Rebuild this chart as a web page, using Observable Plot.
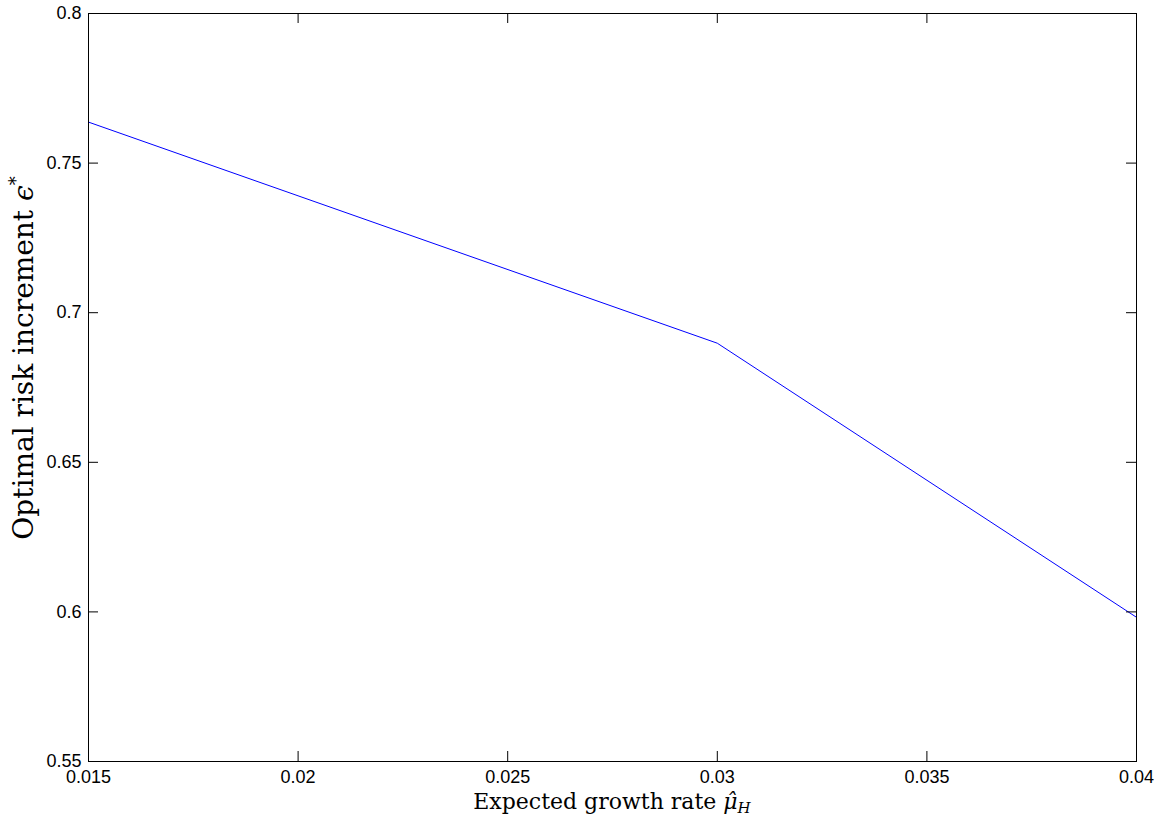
<!DOCTYPE html>
<html><head><meta charset="utf-8">
<script src="https://cdn.jsdelivr.net/npm/d3@7"></script>
<script src="https://cdn.jsdelivr.net/npm/@observablehq/plot@0.6"></script>
<style>body{margin:0;background:#fff}</style>
</head><body><div id="chart"></div>
<script>
const growthRate = [0.015, 0.03, 0.04];
const riskIncrement = [0.7637, 0.6898, 0.5982];
const xTicks = [0.015, 0.02, 0.025, 0.03, 0.035, 0.04];
const xTickLabels = ["0.015", "0.02", "0.025", "0.03", "0.035", "0.04"];
const yTicks = [0.55, 0.6, 0.65, 0.7, 0.75, 0.8];
const yTickLabels = ["0.55", "0.6", "0.65", "0.7", "0.75", "0.8"];

const W = 1159, H = 821, mL = 88, mR = 23, mT = 13, mB = 60;
const plotW = W - mL - mR, plotH = H - mT - mB;
const T = 10;
const data = growthRate.map((x, i) => ({x, y: riskIncrement[i]}));

const chart = Plot.plot({
  width: W, height: H,
  marginLeft: mL, marginRight: mR, marginTop: mT, marginBottom: mB,
  style: {fontFamily: "'Liberation Sans', Arial, sans-serif", fontSize: "18px", color: "#000", background: "#fff"},
  x: {domain: [0.015, 0.04]},
  y: {domain: [0.55, 0.8]},
  marks: [
    Plot.line(data, {x: "x", y: "y", stroke: "#0000ff", strokeWidth: 1}),
    Plot.tickX(xTicks, {x: d => d, insetTop: plotH - T, stroke: "#000"}),
    Plot.tickX(xTicks, {x: d => d, insetBottom: plotH - T, stroke: "#000"}),
    Plot.tickY(yTicks, {y: d => d, insetRight: plotW - T, stroke: "#000"}),
    Plot.tickY(yTicks, {y: d => d, insetLeft: plotW - T, stroke: "#000"}),
    Plot.axisX(xTicks, {anchor: "bottom", tickSize: 0, tickPadding: 9, tickFormat: d => xTickLabels[xTicks.indexOf(d)], label: null}),
    Plot.axisY(yTicks, {anchor: "left", tickSize: 0, tickPadding: 7, tickFormat: d => yTickLabels[yTicks.indexOf(d)], label: null}),
    Plot.frame({stroke: "#000", strokeWidth: 1})
  ]
});

const svg = d3.select(chart);
const serif = "'DejaVu Serif', 'Liberation Serif', serif";
svg.append("text")
  .attr("x", mL + plotW / 2).attr("y", 809)
  .attr("text-anchor", "middle").attr("font-family", serif).attr("font-size", 22).attr("fill", "#000")
  .call(t => {
    t.append("tspan").text("Expected growth rate ");
    t.append("tspan").attr("font-style", "italic").text("\u03BC\u0302");
    t.append("tspan").attr("font-style", "italic").attr("font-size", 15).attr("dy", 4).text("H");
  });
svg.append("text")
  .attr("transform", "translate(33,358) rotate(-90)")
  .attr("text-anchor", "middle").attr("font-family", serif).attr("font-size", 28).attr("fill", "#000")
  .call(t => {
    t.append("tspan").text("Optimal risk increment ");
    t.append("tspan").attr("font-style", "italic").text("\u03F5");
    t.append("tspan").attr("font-size", 18).attr("dy", -11).text("*");
  });

document.getElementById("chart").appendChild(chart);
</script>
</body></html>
